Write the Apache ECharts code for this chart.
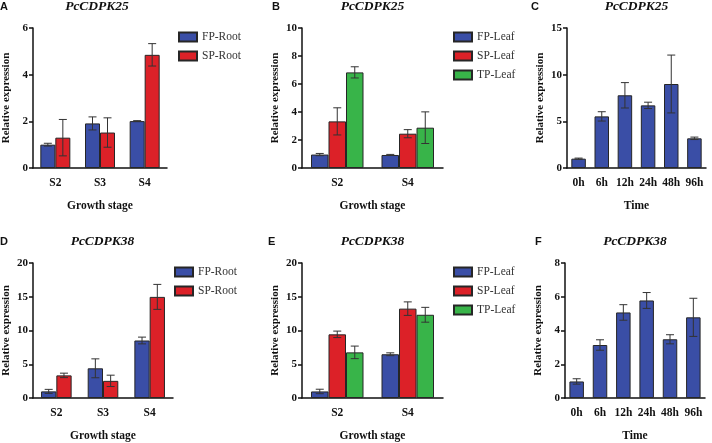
<!DOCTYPE html>
<html><head><meta charset="utf-8">
<script src="https://cdn.jsdelivr.net/npm/echarts@6/dist/echarts.min.js"></script>
<style>html,body{margin:0;padding:0;background:#fff}#c{width:712px;height:443px}</style>
</head><body><div id="c"></div>
<script>
// ---- data ----
const stagesA = ['S2', 'S3', 'S4'];
const fpRootA = [1.0, 1.91, 2.01];
const fpRootAErr = [0.06, 0.28, 0.02];
const spRootA = [1.3, 1.52, 4.85];
const spRootAErr = [0.78, 0.63, 0.48];

const stagesB = ['S2', 'S4'];
const fpLeafB = [0.96, 0.93];
const fpLeafBErr = [0.08, 0.04];
const spLeafB = [3.33, 2.45];
const spLeafBErr = [0.97, 0.29];
const tpLeafB = [6.83, 2.88];
const tpLeafBErr = [0.4, 1.13];

const timesC = ['0h', '6h', '12h', '24h', '48h', '96h'];
const exprC = [1.0, 5.53, 7.79, 6.71, 9.0, 3.18];
const exprCErr = [0.06, 0.5, 1.36, 0.34, 3.1, 0.13];

const stagesD = ['S2', 'S3', 'S4'];
const fpRootD = [0.98, 4.4, 8.52];
const fpRootDErr = [0.3, 1.4, 0.5];
const spRootD = [3.35, 2.54, 14.98];
const spRootDErr = [0.33, 0.84, 1.85];

const stagesE = ['S2', 'S4'];
const fpLeafE = [0.97, 6.48];
const fpLeafEErr = [0.33, 0.21];
const spLeafE = [9.43, 13.24];
const spLeafEErr = [0.48, 1.0];
const tpLeafE = [6.76, 12.33];
const tpLeafEErr = [0.93, 1.1];

const timesF = ['0h', '6h', '12h', '24h', '48h', '96h'];
const exprF = [0.98, 3.14, 5.07, 5.78, 3.48, 4.78];
const exprFErr = [0.16, 0.31, 0.46, 0.47, 0.27, 1.13];

const yTicksA = {max: 6, interval: 2};
const yTicksB = {max: 10, interval: 2};
const yTicksC = {max: 15, interval: 5};
const yTicksD = {max: 20, interval: 5};
const yTicksE = {max: 20, interval: 5};
const yTicksF = {max: 8, interval: 2};

// ---- styling ----
const BLUE = '#3a4ea6', RED = '#dc2128', GREEN = '#38b449';
const SERIF = '"Liberation Serif", "Times New Roman", serif';
const SANS = '"Liberation Sans", Arial, sans-serif';

const panels = [
  {letter: 'A', title: 'PcCDPK25', cats: stagesA, xname: 'Growth stage', yt: yTicksA,
   grid: {left: 27, top: 28, width: 140, height: 140}, bw: 15,
   series: [['FP-Root', fpRootA, fpRootAErr, BLUE], ['SP-Root', spRootA, spRootAErr, RED]]},
  {letter: 'B', title: 'PcCDPK25', cats: stagesB, xname: 'Growth stage', yt: yTicksB,
   grid: {left: 302, top: 28, width: 141, height: 140}, bw: 17.5,
   series: [['FP-Leaf', fpLeafB, fpLeafBErr, BLUE], ['SP-Leaf', spLeafB, spLeafBErr, RED], ['TP-Leaf', tpLeafB, tpLeafBErr, GREEN]]},
  {letter: 'C', title: 'PcCDPK25', cats: timesC, xname: 'Time', yt: yTicksC,
   grid: {left: 567, top: 28, width: 139, height: 140}, bw: 14.5,
   series: [['C', exprC, exprCErr, BLUE]]},
  {letter: 'D', title: 'PcCDPK38', cats: stagesD, xname: 'Growth stage', yt: yTicksD,
   grid: {left: 32, top: 263, width: 141, height: 140}, bw: 15.3,
   series: [['FP-Root', fpRootD, fpRootDErr, BLUE], ['SP-Root', spRootD, spRootDErr, RED]]},
  {letter: 'E', title: 'PcCDPK38', cats: stagesE, xname: 'Growth stage', yt: yTicksE,
   grid: {left: 302, top: 263, width: 141, height: 140}, bw: 17.5,
   series: [['FP-Leaf', fpLeafE, fpLeafEErr, BLUE], ['SP-Leaf', spLeafE, spLeafEErr, RED], ['TP-Leaf', tpLeafE, tpLeafEErr, GREEN]]},
  {letter: 'F', title: 'PcCDPK38', cats: timesF, xname: 'Time', yt: yTicksF,
   grid: {left: 565, top: 263, width: 140, height: 140}, bw: 14.5,
   series: [['F', exprF, exprFErr, BLUE]]}
];

const grids = [], xAxes = [], yAxes = [], series = [], graphics = [];
const letterX = [0, 272, 531, 0, 268, 535];

panels.forEach((p, k) => {
  grids.push(Object.assign({containLabel: false}, p.grid));
  xAxes.push({
    type: 'category', gridIndex: k, data: p.cats,
    name: p.xname, nameLocation: 'middle', nameGap: 32,
    nameTextStyle: {fontFamily: SERIF, fontWeight: 'bold', fontSize: 11.5, color: '#111'},
    axisLine: {lineStyle: {color: '#111', width: 1.5}},
    axisTick: {alignWithLabel: true, length: 4, lineStyle: {color: '#111', width: 1.5}},
    axisLabel: {fontFamily: SERIF, fontWeight: 'bold', fontSize: 11.5, color: '#111', margin: 9, interval: 0}
  });
  yAxes.push({
    type: 'value', gridIndex: k, min: 0, max: p.yt.max, interval: p.yt.interval,
    name: 'Relative expression', nameLocation: 'middle', nameGap: 21,
    nameTextStyle: {fontFamily: SERIF, fontWeight: 'bold', fontSize: 11, color: '#111'},
    axisLine: {show: true, lineStyle: {color: '#111', width: 1.5}},
    axisTick: {show: true, length: 4, lineStyle: {color: '#111', width: 1.5}},
    axisLabel: {fontFamily: SERIF, fontWeight: 'bold', fontSize: 11, color: '#111', margin: 5},
    splitLine: {show: false}
  });
  const n = p.series.length;
  p.series.forEach((s, j) => {
    series.push({
      type: 'bar', name: s[0], xAxisIndex: k, yAxisIndex: k,
      data: s[1], barWidth: p.bw, barGap: '0%',
      itemStyle: {color: s[3], borderColor: '#262626', borderWidth: 1},
      z: 2
    });
    const offset = (j - (n - 1) / 2) * p.bw;
    const cap = 4;
    series.push({
      type: 'custom', name: s[0] + ' err', xAxisIndex: k, yAxisIndex: k, z: 4,
      data: s[1].map((v, i) => [i, v, s[2][i]]),
      encode: {x: 0, y: 1},
      silent: true,
      renderItem: function (params, api) {
        const i = api.value(0), v = api.value(1), e = api.value(2);
        const x = api.coord([i, v])[0] + offset;
        const yt = api.coord([i, v + e])[1];
        const yb = api.coord([i, v - e])[1];
        const st = {stroke: '#333', lineWidth: 1};
        return {type: 'group', children: [
          {type: 'line', shape: {x1: x, y1: yt, x2: x, y2: yb}, style: st},
          {type: 'line', shape: {x1: x - cap, y1: yt, x2: x + cap, y2: yt}, style: st},
          {type: 'line', shape: {x1: x - cap, y1: yb, x2: x + cap, y2: yb}, style: st}
        ]};
      }
    });
  });
  const cx = p.grid.left + p.grid.width / 2;
  const ty = p.grid.top - 21;
  graphics.push({type: 'text', x: cx, y: ty, style: {text: p.title, font: 'italic bold 13.5px ' + SERIF, fill: '#111', textAlign: 'center', textVerticalAlign: 'middle'}});
  graphics.push({type: 'text', x: letterX[k], y: ty, style: {text: p.letter, font: 'bold 11px ' + SANS, fill: '#111', textAlign: 'left', textVerticalAlign: 'middle'}});
});

const legendBase = {
  orient: 'vertical', padding: 0, itemWidth: 18, itemHeight: 9, itemGap: 5, icon: 'rect',
  textStyle: {fontFamily: SERIF, fontSize: 11.5, color: '#333', lineHeight: 14}
};
const legends = [
  Object.assign({}, legendBase, {left: 178, top: 30, data: ['FP-Root', 'SP-Root']}),
  Object.assign({}, legendBase, {left: 453, top: 30, data: ['FP-Leaf', 'SP-Leaf', 'TP-Leaf']}),
  Object.assign({}, legendBase, {left: 174, top: 265, data: ['FP-Root', 'SP-Root']}),
  Object.assign({}, legendBase, {left: 453, top: 265, data: ['FP-Leaf', 'SP-Leaf', 'TP-Leaf']})
];

const chart = echarts.init(document.getElementById('c'), null, {renderer: 'canvas'});
chart.setOption({
  animation: false,
  backgroundColor: '#fff',
  grid: grids, xAxis: xAxes, yAxis: yAxes, series: series,
  legend: legends, graphic: graphics
});
</script></body></html>
